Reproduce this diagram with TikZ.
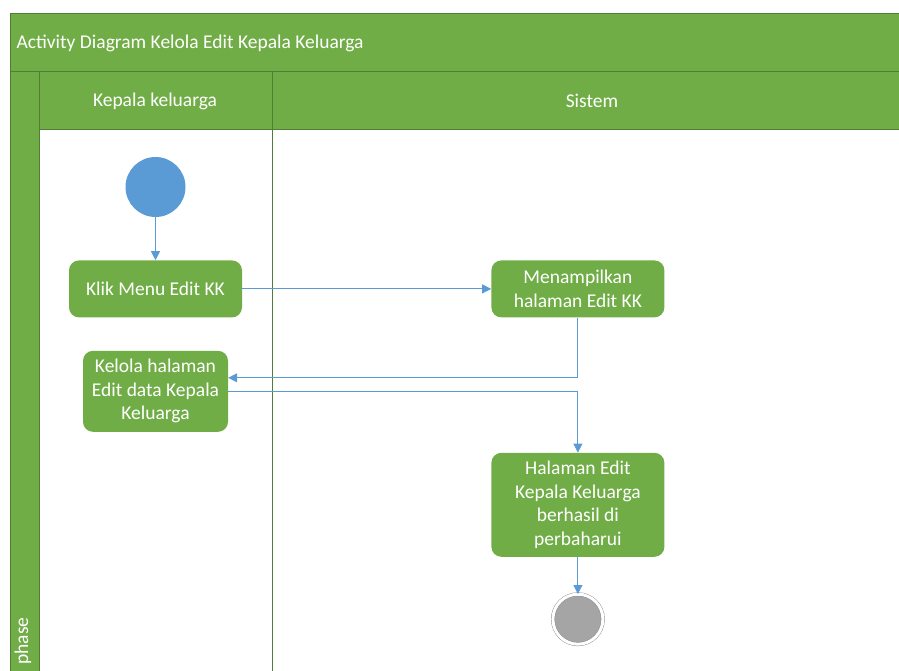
\documentclass[tikz,border=0pt]{standalone}
\usepackage{fontspec}
\setmainfont{Carlito}
\usetikzlibrary{arrows.meta,positioning}
\definecolor{lanegreen}{HTML}{70AD47}
\definecolor{laneline}{HTML}{507E32}
\definecolor{flowblue}{HTML}{5B9BD5}
\definecolor{endgray}{HTML}{A5A5A5}

\begin{document}
\begin{tikzpicture}[x=1pt,y=-1pt,>={Triangle[length=9pt,width=9pt]},
                    flow/.style={->,draw=flowblue,line width=0.9pt},
                    lanetext/.style={text=white,font=\fontsize{19.5}{23}\selectfont},
                    action/.style={rectangle,rounded corners=10pt,fill=lanegreen,
                      text=white,align=center,inner sep=0pt,
                      font=\fontsize{19.5}{23.5}\selectfont},
                    initialnode/.style={circle,fill=flowblue,minimum size=60pt,inner sep=0pt},
                    finalnode/.style={circle,draw=endgray!80!black,fill=endgray,
                      double=white,double distance=3pt,minimum size=50pt,inner sep=0pt}]

  \useasboundingbox (0,0) rectangle (899,670);
  \fill[lanegreen] (10,13) rectangle (912,71);
  \fill[lanegreen] (10,71) rectangle (39,700);
  \fill[lanegreen] (39,71) rectangle (912,129);
  \draw[laneline] (10,13) rectangle (912,700);
  \draw[laneline] (10,71) -- (912,71);
  \draw[laneline] (39,129) -- (912,129);
  \draw[laneline] (39,71) -- (39,700);
  \draw[laneline] (272,71) -- (272,700);

  \node[lanetext,anchor=west]          (title) at (13,43)  {Activity Diagram Kelola Edit Kepala Keluarga};
  \node[lanetext]                      (kk)    at (155,101) {Kepala keluarga};
  \node[lanetext]                      (sis)   at (592,101) {Sistem};
  \node[lanetext,rotate=90,anchor=east] (phase) at (23,614) {phase};

  \node[initialnode]                                  (start)  at (155.5,187) {};
  \node[action,minimum width=173pt,minimum height=57pt] (klik)   [below=43pt of start] {Klik Menu Edit KK};
  \node[action,minimum width=173pt,minimum height=57pt] (tampil) [right=249pt of klik] {Menampilkan\\halaman Edit KK};
  \node[action,minimum width=145pt,minimum height=81pt] (kelola) [below=33pt of klik] {Kelola halaman\\Edit data Kepala\\Keluarga};
  \node[action,minimum width=173pt,minimum height=104pt] (hasil) [below=135pt of tampil] {Halaman Edit\\Kepala Keluarga\\berhasil di\\perbaharui};
  \node[finalnode]                                    (end)    [below=37pt of hasil] {};

  \draw[flow] (start) -- (klik);
  \draw[flow] (klik) -- (tampil);
  \draw[flow] (tampil.south) |- ([yshift=13.5pt]kelola.east);
  \draw[flow] (kelola.east) -| (hasil.north);
  \draw[flow] (hasil) -- (end);
\end{tikzpicture}
\end{document}
